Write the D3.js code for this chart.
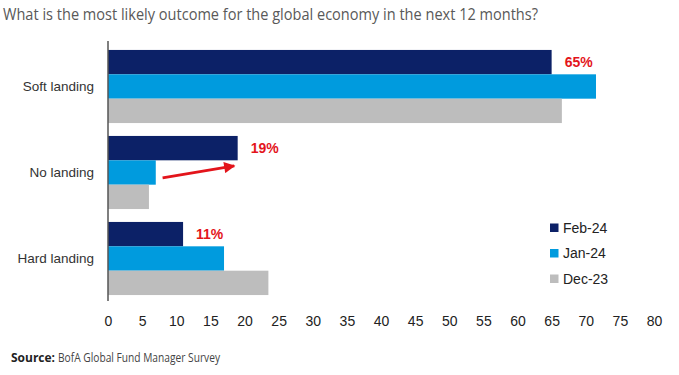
<!DOCTYPE html>
<html lang="en">
<head>
<meta charset="UTF-8">
<title>Global economy outcome</title>
<script src="https://cdn.jsdelivr.net/npm/d3@7"></script>
<style>
  body { margin: 0; background: #fff; }
  svg { display: block; }
</style>
</head>
<body>
<script>
var categories = ['Soft landing', 'No landing', 'Hard landing'];
var seriesNames = ['Feb-24', 'Jan-24', 'Dec-23'];
var feb24 = [65, 19, 11];
var jan24 = [71.5, 7, 17];
var dec23 = [66.5, 6, 23.5];
var xTicks = [0, 5, 10, 15, 20, 25, 30, 35, 40, 45, 50, 55, 60, 65, 70, 75, 80];
var callouts = ['65%', '19%', '11%'];

var width = 679, height = 375;
var colors = ['#0c2167', '#009bde', '#bdbdbd'];
var series = [feb24, jan24, dec23];

var svg = d3.select('body').append('svg')
  .attr('width', width)
  .attr('height', height);

var xScale = d3.scaleLinear().domain([0, 80]).range([108, 654]);
var yScale = d3.scaleBand().domain(categories)
  .range([43.5, 301.5]).paddingInner(0.15).paddingOuter(0.075);
var ySub = d3.scaleBand().domain(seriesNames).range([0, yScale.bandwidth()]);

// subtitle
svg.append('text')
  .attr('x', 3).attr('y', 20)
  .attr('font-family', 'Open Sans, sans-serif')
  .attr('font-size', 17)
  .attr('fill', '#595959')
  .attr('textLength', 535)
  .attr('lengthAdjust', 'spacingAndGlyphs')
  .text('What is the most likely outcome for the global economy in the next 12 months?');

// bars
var groups = svg.selectAll('g.cat')
  .data(categories)
  .enter().append('g')
  .attr('class', 'cat')
  .attr('transform', d => `translate(0,${yScale(d)})`);

groups.selectAll('rect')
  .data((d, i) => series.map((s, j) => ({ name: seriesNames[j], value: s[i], color: colors[j] })))
  .enter().append('rect')
  .attr('x', xScale(0))
  .attr('y', d => ySub(d.name))
  .attr('width', d => xScale(d.value) - xScale(0))
  .attr('height', ySub.bandwidth())
  .attr('fill', d => d.color);

// category labels
svg.selectAll('text.cat')
  .data(categories)
  .enter().append('text')
  .attr('class', 'cat')
  .attr('x', 94)
  .attr('y', d => yScale(d) + yScale.bandwidth() / 2)
  .attr('dy', '0.35em')
  .attr('text-anchor', 'end')
  .attr('font-family', 'Liberation Sans, Arial, sans-serif')
  .attr('font-size', 13.5)
  .attr('fill', '#333')
  .text(d => d);

// value callouts for Feb-24
svg.selectAll('text.callout')
  .data(categories)
  .enter().append('text')
  .attr('class', 'callout')
  .attr('x', (d, i) => xScale(feb24[i]) + 13)
  .attr('y', d => yScale(d) + ySub('Feb-24') + ySub.bandwidth() / 2)
  .attr('dy', '0.35em')
  .attr('font-family', 'Liberation Sans, Arial, sans-serif')
  .attr('font-weight', 'bold')
  .attr('font-size', 14)
  .attr('fill', '#e3141b')
  .text((d, i) => callouts[i]);

// arrow on No landing
svg.append('defs').append('marker')
  .attr('id', 'head')
  .attr('viewBox', '0 0 10 10')
  .attr('refX', 9).attr('refY', 5)
  .attr('markerWidth', 4.5).attr('markerHeight', 4)
  .attr('markerUnits', 'strokeWidth')
  .attr('orient', 'auto')
  .append('path')
  .attr('d', 'M0,0L10,5L0,10Z')
  .attr('fill', '#e3141b');

var nl = yScale('No landing'), bw = yScale.bandwidth();
svg.append('line')
  .attr('x1', xScale(8)).attr('y1', nl + bw * 0.575)
  .attr('x2', xScale(18.5)).attr('y2', nl + bw * 0.41)
  .attr('stroke', '#e3141b')
  .attr('stroke-width', 2.8)
  .attr('marker-end', 'url(#head)');

// axes
svg.append('line')
  .attr('x1', xScale(0)).attr('x2', xScale(0))
  .attr('y1', 41).attr('y2', 301)
  .attr('stroke', '#555').attr('stroke-width', 1.5);

var xAxis = d3.axisBottom(xScale).tickValues(xTicks).tickSize(0).tickPadding(0);
var gx = svg.append('g')
  .attr('transform', 'translate(0,316)')
  .call(xAxis);
gx.select('.domain').remove();
gx.selectAll('text')
  .attr('font-family', 'Liberation Sans, Arial, sans-serif')
  .attr('font-size', 14)
  .attr('fill', '#222');

// legend
var legend = svg.selectAll('g.legend')
  .data(seriesNames)
  .enter().append('g')
  .attr('class', 'legend')
  .attr('transform', (d, i) => `translate(550,${228 + i * 25.5})`);
legend.append('rect')
  .attr('x', 0).attr('y', -4.5)
  .attr('width', 8.5).attr('height', 8.5)
  .attr('fill', (d, i) => colors[i]);
legend.append('text')
  .attr('x', 13).attr('y', 0)
  .attr('dy', '0.35em')
  .attr('font-family', 'Liberation Sans, Arial, sans-serif')
  .attr('font-size', 14)
  .attr('fill', '#222')
  .text(d => d);

// source
svg.append('text')
  .attr('x', 11).attr('y', 362)
  .attr('font-family', 'Open Sans, sans-serif')
  .attr('font-size', 12)
  .attr('font-weight', 'bold')
  .attr('fill', '#222')
  .attr('textLength', 44)
  .attr('lengthAdjust', 'spacingAndGlyphs')
  .text('Source:');
svg.append('text')
  .attr('x', 58).attr('y', 362)
  .attr('font-family', 'Open Sans, sans-serif')
  .attr('font-size', 12)
  .attr('fill', '#444')
  .attr('textLength', 162)
  .attr('lengthAdjust', 'spacingAndGlyphs')
  .text('BofA Global Fund Manager Survey');
</script>
</body>
</html>
